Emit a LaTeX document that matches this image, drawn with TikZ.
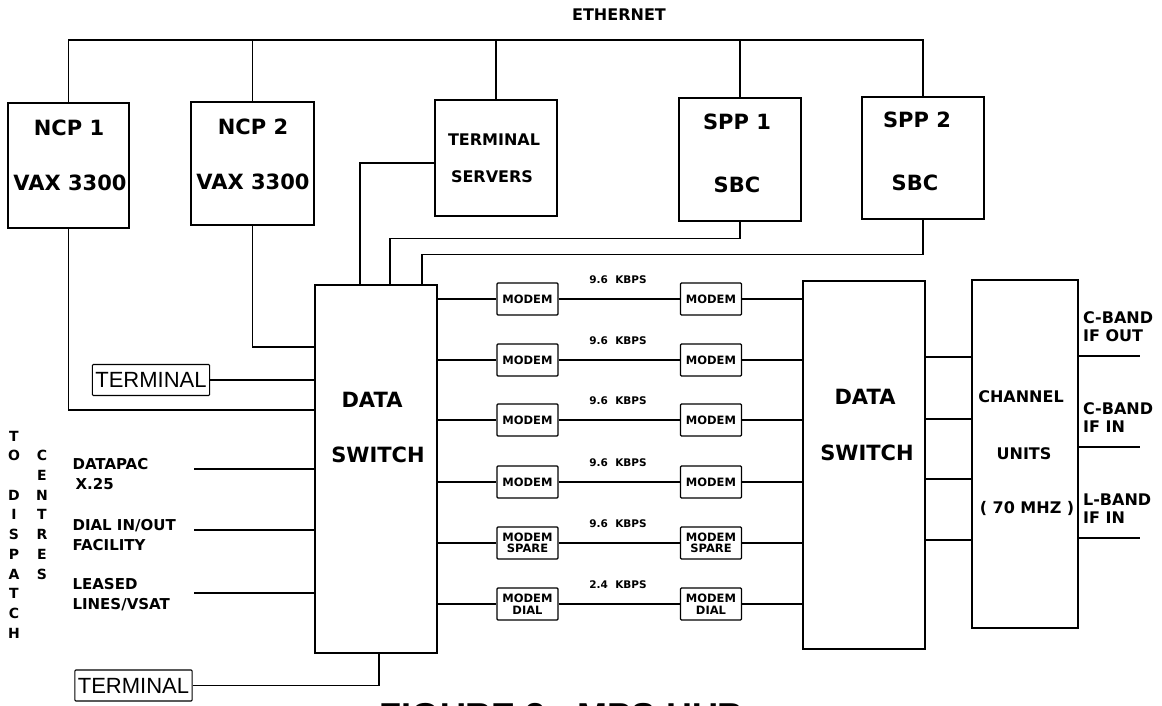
\documentclass[tikz,border=0pt]{standalone}
\usepackage{fontspec}
\setmainfont{Liberation Sans}
\newfontfamily\heavy{DejaVu Sans}
\usetikzlibrary{positioning}

\begin{document}
\begin{tikzpicture}[x=1pt, y=-1pt, line width=1.1pt,
    unit/.style={rectangle, draw, inner sep=0pt},
    big/.style={font=\fontsize{21}{24}\heavy\bfseries},
    small/.style={font=\fontsize{16}{18}\heavy\bfseries},
    side/.style={font=\fontsize{15}{20}\heavy\bfseries, align=left, inner sep=0pt, anchor=north west},
    band/.style={font=\fontsize{16}{18}\heavy\bfseries, align=left, anchor=south west,
        inner xsep=4pt, inner ysep=0pt, yshift=14pt},
    letter/.style={font=\fontsize{14}{14}\heavy\bfseries, inner sep=0pt},
    modem/.style={rectangle, draw, rounded corners=1pt, minimum width=61pt, minimum height=32pt,
        inner sep=0pt, align=center, font=\fontsize{11.5}{11.5}\heavy\bfseries},
    rate/.style={font=\fontsize{10.5}{11}\heavy\bfseries},
    term/.style={rectangle, draw, rounded corners=1pt, inner xsep=3pt, minimum height=31pt,
        font=\fontsize{22}{22}\selectfont}
]
\useasboundingbox (0,0) rectangle (1162,706);
\clip (0,0) rectangle (1162,706);

\node[unit, minimum width=121pt, minimum height=125pt] (ncp1) at (68.5,165.5) {};
\node[unit, minimum width=123pt, minimum height=123pt] (ncp2) at (252.5,163.5) {};
\node[unit, minimum width=122pt, minimum height=116pt] (ts) at (496,158) {};
\node[unit, minimum width=122pt, minimum height=123pt] (spp1) at (740,159.5) {};
\node[unit, minimum width=122pt, minimum height=122pt] (spp2) at (923,158) {};
\node[big] (ncp1a) at (69,128) {NCP 1};
\node[big] (ncp1b) at (70,183) {VAX 3300};
\node[big] (ncp2a) at (253,127) {NCP 2};
\node[big] (ncp2b) at (253,182) {VAX 3300};
\node[small] (tsa) at (494,140) {TERMINAL};
\node[small] (tsb) at (492,177) {SERVERS};
\node[big] (spp1a) at (737,122) {SPP 1};
\node[big] (spp1b) at (737,185) {SBC};
\node[big] (spp2a) at (917,120) {SPP 2};
\node[big] (spp2b) at (915,183) {SBC};

\coordinate (bus) at (500,40);
\node[small] (eth) at (619,15) {ETHERNET};
\draw (ncp1.north) |- (bus -| spp2.north) -- (spp2.north);
\foreach \n in {ncp2,ts,spp1}
    \draw (\n.north) -- (\n.north |- bus);

\node[unit, minimum width=122pt, minimum height=368pt] (ds1) at (376,469) {};
\node[unit, minimum width=122pt, minimum height=368pt] (ds2) at (864,465) {};
\node[unit, minimum width=106pt, minimum height=348pt] (cu) at (1025,454) {};
\node[big] (ds1a) at (372,400) {DATA};
\node[big] (ds1b) at (378,455) {SWITCH};
\node[big] (ds2a) at (865,397) {DATA};
\node[big] (ds2b) at (867,453) {SWITCH};
\node[small] (cua) at (1021,397) {CHANNEL};
\node[small] (cub) at (1024,454) {UNITS};
\node[small] (cuc) at (1027,508) {( 70 MHZ )};

\draw (ncp1.south) |- ([yshift=59pt]ds1.west);
\draw (ncp2.south) |- ([yshift=122pt]ds1.west);
\draw ([yshift=-5pt]ts.west) -| ([xshift=-16pt]ds1.north);
\draw (spp1.south) -- ++(0,17) -| ([xshift=14pt]ds1.north);
\draw (spp2.south) -- ++(0,35) -| ([xshift=46pt]ds1.north);

\node[term] (term1) at (151,380) {TERMINAL};
\node[term] (term2) at (133.5,685.5) {TERMINAL};
\draw (term1.east) -- (term1.east -| ds1.west);
\draw (term2.east) -| ([xshift=3pt]ds1.south);

\foreach \y/\ty/\txt [count=\i] in {469/458/{DATAPAC\\\hspace{3pt}X.25}, 530/519/{DIAL IN/OUT\\FACILITY}, 593/578/{LEASED\\LINES/VSAT}}{
    \coordinate (in\i) at (194,\y);
    \draw (in\i) -- (in\i -| ds1.west);
    \node[side] (src\i) at (72,\ty) {\txt};
}

\foreach \c/\i in {T/0,O/1,D/3,I/4,S/5,P/6,A/7,T/8,C/9,H/10}
    \node[letter] (to\i) at (14,436+19.7*\i) {\c};
\foreach \c/\i in {C/1,E/2,N/3,T/4,R/5,E/6,S/7}
    \node[letter] (ce\i) at (42,436+19.7*\i) {\c};

\foreach \i/\y/\txt/\rate in {1/299/MODEM/9.6, 2/360/MODEM/9.6, 3/420/MODEM/9.6, 4/482/MODEM/9.6,
        5/543/{MODEM\\SPARE}/9.6, 6/604/{MODEM\\DIAL}/2.4}{
    \node[modem] (ma\i) at (527.5,\y) {\txt};
    \node[modem] (mb\i) at (711,\y) {\txt};
    \node[rate] (kb\i) at (618,\y-19) {\rate\ \ KBPS};
    \draw (ma\i.west -| ds1.east) -- (ma\i.west) (ma\i.east) -- (mb\i.west)
        (mb\i.east) -- (mb\i.east -| ds2.west);
}

\foreach \y [count=\i] in {357,419,479,540}{
    \coordinate (dc\i) at (948,\y);
    \draw (dc\i -| ds2.east) -- (dc\i -| cu.west);
}

\foreach \y/\txt [count=\i] in {356/{C-BAND\\IF OUT}, 447/{C-BAND\\IF IN}, 538/{L-BAND\\IF IN}}{
    \coordinate (out\i) at (1140,\y);
    \draw (out\i -| cu.east) -- (out\i);
    \node[band] (band\i) at (out\i -| cu.east) {\txt};
}

\node[font=\fontsize{36}{36}\selectfont\bfseries, anchor=north, inner sep=0pt] (caption) at (562,703) {FIGURE 3 - MPS HUB};
\end{tikzpicture}
\end{document}
